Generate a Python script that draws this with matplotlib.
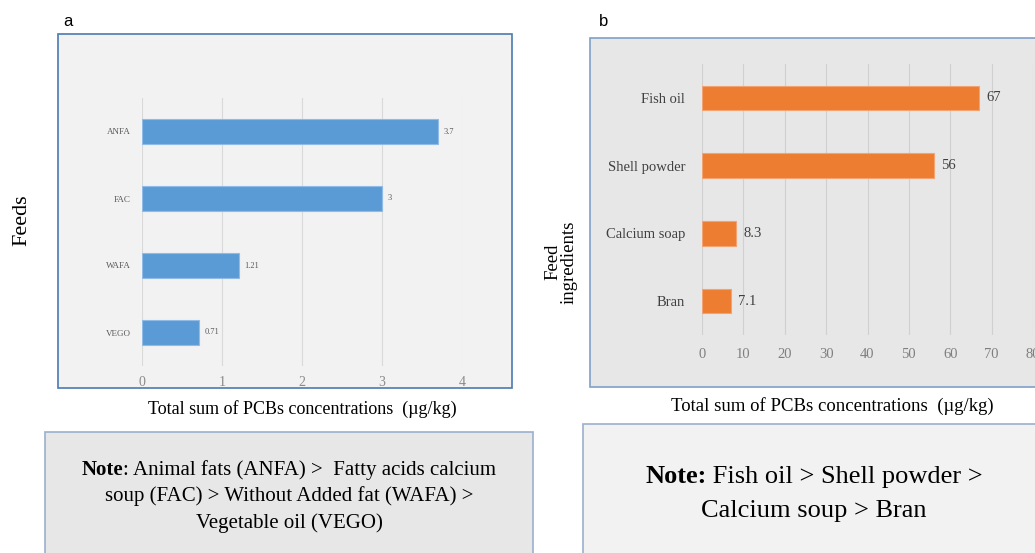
import matplotlib
matplotlib.use("Agg")
import matplotlib.pyplot as plt
from matplotlib.patches import Rectangle

# ---- data ----
feeds = ["ANFA", "FAC", "WAFA", "VEGO"]
feed_values = [3.7, 3.0, 1.21, 0.71]
feed_labels = ["3.7", "3", "1.21", "0.71"]
feed_ticks = [0, 1, 2, 3, 4]

ingredients = ["Fish oil", "Shell powder", "Calcium soap", "Bran"]
ingredient_values = [67, 56, 8.3, 7.1]
ingredient_labels = ["67", "56", "8.3", "7.1"]
ingredient_ticks = [0, 10, 20, 30, 40, 50, 60, 70, 80]

plt.rcParams['font.family'] = ['Liberation Serif', 'DejaVu Serif']

W, H = 1035, 553
fig = plt.figure(figsize=(W / 100, H / 100), dpi=100)
fig.patch.set_facecolor("white")
renderer = fig.canvas.get_renderer()


def fx(x):
    return x / W


def fy(y):
    return 1 - y / H


def rect(x0, y0, x1, y1, face, edge):
    r = Rectangle((fx(x0), fy(y1)), fx(x1) - fx(x0), fy(y0) - fy(y1),
                  transform=fig.transFigure, facecolor=face, edgecolor=edge,
                  linewidth=1.2, zorder=0)
    fig.add_artist(r)


def axes_px(x0, y0, x1, y1):
    return fig.add_axes([fx(x0), fy(y1), fx(x1) - fx(x0), fy(y0) - fy(y1)])


def mixed_line(xc, yb, bold, rest, size):
    t1 = fig.text(0, fy(yb), bold, fontsize=size, weight="bold", va="baseline", ha="left")
    t2 = fig.text(0, fy(yb), rest, fontsize=size, va="baseline", ha="left")
    w1 = t1.get_window_extent(renderer).width
    w2 = t2.get_window_extent(renderer).width
    x0 = xc - (w1 + w2) / 2
    t1.set_x(fx(x0))
    t2.set_x(fx(x0 + w1))


def plain_line(xc, yb, s, size):
    fig.text(fx(xc), fy(yb), s, fontsize=size, va="baseline", ha="center")


# ---- panel a ----
rect(58, 34, 512, 388, "#f2f2f2", "#4a7ab0")
axa = axes_px(142, 98, 462, 366)
axa.set_facecolor("none")
ya = list(range(len(feeds)))[::-1]
axa.barh(ya, feed_values, height=0.36, color="#5b9bd5", edgecolor="#8fbbe6",
         linewidth=0.8, zorder=3)
for y, v, t in zip(ya, feed_values, feed_labels):
    axa.text(v + 0.07, y, t, va="center", ha="left", fontsize=6, color="#595959")
axa.set_ylim(-0.5, 3.5)
axa.set_xlim(0, 4)
axa.set_xticks(feed_ticks)
axa.set_xticklabels([str(t) for t in feed_ticks], fontsize=10, color="#8a8a8a")
axa.set_yticks(ya)
axa.set_yticklabels(feeds, fontsize=6.5, color="#595959")
axa.tick_params(axis="both", length=0)
axa.tick_params(axis="x", pad=7)
axa.tick_params(axis="y", pad=8)
axa.grid(axis="x", color="#d9d9d9", linewidth=0.8, zorder=0)
for s in axa.spines.values():
    s.set_visible(False)
fig.text(fx(68), fy(22), "a", fontsize=12, ha="center", va="center",
         family="Liberation Sans")
fig.text(fx(302), fy(409), "Total sum of PCBs concentrations  (µg/kg)",
         fontsize=13, ha="center", va="center")
fig.text(fx(22), fy(220), "Feeds", fontsize=16, rotation=90,
         ha="center", va="center")

# ---- panel b ----
rect(590, 38, 1045, 387, "#e7e7e7", "#7f9fc6")
axb = axes_px(702, 64, 1033, 335)
axb.set_facecolor("none")
yb = list(range(len(ingredients)))[::-1]
axb.barh(yb, ingredient_values, height=0.36, color="#ed7d31", edgecolor="#f3a271",
         linewidth=0.8, zorder=3)
for y, v, t in zip(yb, ingredient_values, ingredient_labels):
    axb.text(v + 1.7, y, t, va="center", ha="left", fontsize=10.5, color="#404040")
axb.set_ylim(-0.5, 3.5)
axb.set_xlim(0, 80)
axb.set_xticks(ingredient_ticks)
axb.set_xticklabels([str(t) for t in ingredient_ticks], fontsize=10.5, color="#7f7f7f")
axb.set_yticks(yb)
axb.set_yticklabels(ingredients, fontsize=10.5, color="#404040")
axb.tick_params(axis="both", length=0)
axb.tick_params(axis="x", pad=9)
axb.tick_params(axis="y", pad=12)
axb.grid(axis="x", color="#d0d0d0", linewidth=0.8, zorder=0)
for s in axb.spines.values():
    s.set_visible(False)
fig.text(fx(604), fy(22), "b", fontsize=12, ha="center", va="center",
         family="Liberation Sans")
fig.text(fx(832), fy(406), "Total sum of PCBs concentrations  (µg/kg)",
         fontsize=13.5, ha="center", va="center")
fig.text(fx(561), fy(262), "Feed\ningredients", fontsize=13.5, rotation=90,
         ha="center", va="center", linespacing=0.95)

# ---- note boxes ----
rect(45, 432, 533, 560, "#e7e7e7", "#9ab0cc")
rect(583, 424, 1045, 560, "#f2f2f2", "#9ab0cc")
mixed_line(289, 475, "Note", ": Animal fats (ANFA) >  Fatty acids calcium", 15)
plain_line(289, 501, "soup (FAC) > Without Added fat (WAFA) >", 15)
plain_line(289, 528, "Vegetable oil (VEGO)", 15)
mixed_line(814, 483, "Note:", " Fish oil > Shell powder >", 19)
plain_line(814, 517, "Calcium soup > Bran", 19)

fig.savefig("out.png", dpi=100)
